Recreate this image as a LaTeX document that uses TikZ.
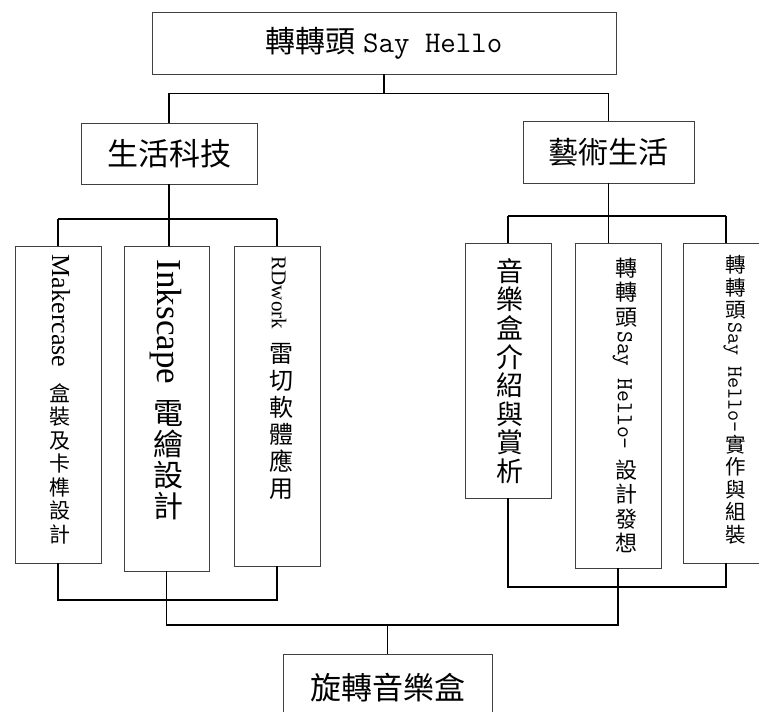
\documentclass[tikz,border=0pt]{standalone}
\usepackage{graphicx}
\usepackage{fontspec}
\setmainfont{Liberation Serif}
\newfontfamily\cjk{Noto Sans CJK TC}

% upright CJK glyphs inside a text line turned clockwise
\newlength\uppitch
\makeatletter
\newcommand\up[1]{\up@loop#1\@nil}
\def\up@loop#1{\ifx#1\@nil\else\hbox to\uppitch{\hss\rotatebox[origin=c]{90}{\cjk\rule[-.12em]{0pt}{1em}#1}\hss}\expandafter\up@loop\fi}
\makeatother

\tikzset{
  box/.style={draw=black!75, line width=0.8pt, inner sep=0pt},
  link/.style={line width=1.4pt},
  thinlink/.style={line width=0.8pt},
  vtext/.style={rotate=-90, anchor=west, inner sep=0pt},
}

\begin{document}
\begin{tikzpicture}[x=1pt, y=-1pt]
\useasboundingbox (0,0) rectangle (759,711);

% course title
\node[box, minimum width=464pt, minimum height=62pt] (title) at (384,43)
  {\fontsize{30}{36}\selectfont{\cjk 轉轉頭} {\ttfamily Say Hello}};

% two subjects
\node[box, minimum width=176pt, minimum height=61pt] (tech) at (169,153.5)
  {\fontsize{31}{36}\selectfont\cjk 生活科技};
\node[box, minimum width=171pt, minimum height=62pt] (arts) at (608.5,152)
  {\fontsize{30}{36}\selectfont\cjk 藝術生活};

% junction rows
\coordinate (topbar) at (0,93);
\coordinate (techbar) at (0,219);
\coordinate (artsbar) at (0,216);
\coordinate (techfoot) at (0,600);
\coordinate (artsfoot) at (0,587);
\coordinate (mainbar) at (0,625);

% units of the technology part
\node[box, minimum width=86pt, minimum height=317pt] (case) at (58,404.5) {};
\node[vtext] (casetxt) at ([xshift=2pt,yshift=-9pt]case.north)
  {\fontsize{26}{30}\selectfont Makercase\hspace{14pt}\fontsize{21}{26}\selectfont\setlength\uppitch{23.5pt}\up{盒裝及卡榫設計}};

\node[box, minimum width=85pt, minimum height=325pt] (draft) at (166.5,408.5) {};
\node[vtext] (drafttxt) at ([yshift=-14pt]draft.north)
  {\fontsize{35}{40}\selectfont Inkscape\hspace{13pt}\fontsize{30}{36}\selectfont\setlength\uppitch{31pt}\up{電繪設計}};

\node[box, minimum width=86pt, minimum height=320pt] (laser) at (277,406) {};
\node[vtext] (lasertxt) at ([xshift=4pt,yshift=-11pt]laser.north)
  {\fontsize{21}{26}\selectfont RDwork\hspace{11pt}\fontsize{24}{28}\selectfont\setlength\uppitch{27pt}\up{雷切軟體應用}};

% units of the arts part
\node[box, minimum width=86pt, minimum height=255pt] (intro) at (508,370.5) {};
\node[vtext] (introtxt) at ([xshift=2pt,yshift=-14pt]intro.north)
  {\fontsize{27}{32}\selectfont\setlength\uppitch{28.6pt}\up{音樂盒介紹與賞析}};

\node[box, minimum width=86pt, minimum height=325pt] (idea) at (618,405.5) {};
\node[vtext] (ideatxt) at ([xshift=7pt,yshift=-13pt]idea.north)
  {\fontsize{22}{26}\selectfont\setlength\uppitch{24.5pt}\up{轉轉頭}\hspace{2pt}{\fontsize{23}{26}\selectfont\ttfamily Say Hello-}\hspace{8pt}\up{設計發想}};

\node[box, minimum width=86pt, minimum height=320pt] (build) at (726,403) {};
\node[vtext] (buildtxt) at ([xshift=9pt,yshift=-11pt]build.north)
  {\fontsize{20.5}{24}\selectfont\setlength\uppitch{22.5pt}\up{轉轉頭}\hspace{1pt}{\fontsize{21.5}{24}\selectfont\ttfamily Say Hello-}\up{實作與組裝}};

% final work
\node[box, minimum width=209pt, minimum height=68pt] (musicbox) at (387.5,688)
  {\fontsize{31}{36}\selectfont\cjk 旋轉音樂盒};

% title -> subjects
\draw[thinlink] (tech.north |- topbar) -- (arts.north |- topbar);
\draw[link] (title.south) -- (title.south |- topbar);
\draw[link] (tech.north |- topbar) -- (tech.north);
\draw[link] (arts.north |- topbar) -- (arts.north);

% subjects -> units
\draw[link] (case.north |- techbar) -- (laser.north |- techbar);
\draw[link] (tech.south) -- (tech.south |- draft.north);
\draw[link] (case.north) -- (case.north |- techbar);
\draw[link] (laser.north) -- (laser.north |- techbar);

\draw[link] (intro.north |- artsbar) -- (build.north |- artsbar);
\draw[link] (arts.south) -- (arts.south |- idea.north);
\draw[link] (intro.north) -- (intro.north |- artsbar);
\draw[link] (build.north) -- (build.north |- artsbar);

% units -> final work
\draw[link] (case.south) -- (case.south |- techfoot) -- (laser.south |- techfoot) -- (laser.south);
\draw[link] (intro.south) -- (intro.south |- artsfoot) -- (build.south |- artsfoot) -- (build.south);
\draw[link] (draft.south) -- (draft.south |- mainbar) -- (idea.south |- mainbar) -- (idea.south);
\draw[link] (musicbox.north |- mainbar) -- (musicbox.north);
\end{tikzpicture}
\end{document}
